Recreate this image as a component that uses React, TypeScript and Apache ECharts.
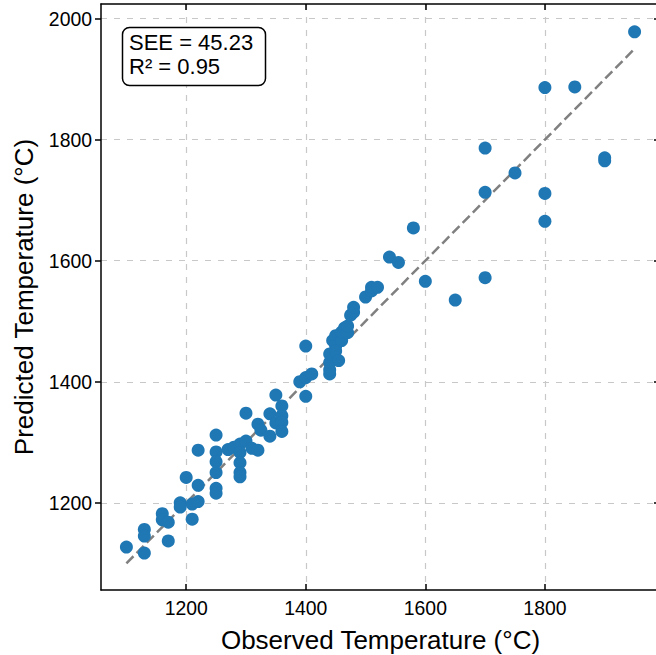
import React, { useEffect, useRef } from "react";
import * as echarts from "echarts";

const observed = [
  1100, 1130, 1130, 1130, 1160, 1160, 1170, 1170, 1190, 1190,
  1200, 1210, 1210, 1220, 1220, 1220, 1250, 1250, 1250, 1250,
  1250, 1250, 1270, 1280, 1290, 1290, 1290, 1290, 1290, 1300,
  1300, 1310, 1320, 1320, 1325, 1340, 1340, 1350, 1350, 1360,
  1360, 1360, 1360, 1390, 1400, 1400, 1400, 1410, 1440, 1440,
  1440, 1440, 1445, 1450, 1450, 1450, 1455, 1455, 1460, 1460,
  1465, 1470, 1470, 1475, 1480, 1480, 1500, 1510, 1510, 1520,
  1540, 1555, 1580, 1600, 1650, 1700, 1700, 1700, 1750, 1800,
  1800, 1800, 1850, 1900, 1900, 1950,
];
const predicted = [
  1127, 1156, 1145, 1117, 1182, 1172, 1168, 1137, 1200, 1193,
  1242, 1173, 1198, 1202, 1229, 1287, 1312, 1284, 1268, 1250,
  1224, 1216, 1288, 1292, 1297, 1283, 1266, 1250, 1243, 1302,
  1348, 1290, 1287, 1330, 1320, 1347, 1310, 1378, 1332, 1360,
  1344, 1333, 1318, 1400, 1407, 1459, 1376, 1413, 1413, 1420,
  1432, 1446, 1468, 1476, 1459, 1451, 1435, 1476, 1468, 1482,
  1489, 1481, 1492, 1510, 1515, 1523, 1540, 1550, 1556, 1556,
  1606, 1597, 1654, 1566, 1535, 1786, 1713, 1572, 1745, 1886,
  1711, 1665, 1887, 1770, 1765, 1978,
];
const fitLine = [1100, 1950];
const xTicks = [1200, 1400, 1600, 1800];
const yTicks = [1200, 1400, 1600, 1800, 2000];
const statLines = ["SEE = 45.23", "R² = 0.95"];
const xLabel = "Observed Temperature (°C)";
const yLabel = "Predicted Temperature (°C)";

const FONT = "'Liberation Sans', Arial, sans-serif";

export default function App() {
  const ref = useRef<HTMLDivElement>(null);
  useEffect(() => {
    if (!ref.current) return;
    const chart = echarts.init(ref.current, null, { renderer: "svg" });
    const xMin = 1057.5, xMax = 1992.5, yMin = 1056, yMax = 2024;
    const axisLine = { show: true, onZero: false, lineStyle: { color: "#000", width: 1.5 } };
    const grid = { show: true, lineStyle: { color: "#c8c8c8", width: 1.2, type: [6, 7] } };
    const fmt = (v: number) => String(v);
    chart.setOption({
      animation: false,
      backgroundColor: "#fff",
      grid: { left: 101, top: 4, width: 559, height: 586, containLabel: false, outerBoundsMode: "none" },
      xAxis: [
        {
          type: "value", min: xMin, max: xMax, position: "bottom",
          name: xLabel, nameLocation: "middle", nameGap: 37,
          nameTextStyle: { fontFamily: FONT, fontSize: 26, color: "#000", lineHeight: 26 },
          axisLine,
          axisTick: { show: true, inside: true, length: 6, customValues: xTicks, lineStyle: { color: "#000", width: 1.5 } },
          axisLabel: { show: true, customValues: xTicks, formatter: fmt, margin: 8, fontFamily: FONT, fontSize: 19.4, color: "#000", lineHeight: 19 },
          splitLine: grid,
        },
        {
          type: "value", min: xMin, max: xMax, position: "top",
          axisLine,
          axisTick: { show: true, inside: true, length: 6, customValues: xTicks, lineStyle: { color: "#000", width: 1.5 } },
          axisLabel: { show: false },
          splitLine: { show: false },
        },
      ],
      yAxis: [
        {
          type: "value", min: yMin, max: yMax, position: "left",
          name: yLabel, nameLocation: "middle", nameGap: 64, nameRotate: 90,
          nameTextStyle: { fontFamily: FONT, fontSize: 26, color: "#000", lineHeight: 26 },
          axisLine,
          axisTick: { show: true, inside: false, length: 6, customValues: yTicks, lineStyle: { color: "#000", width: 1.5 } },
          axisLabel: { show: true, customValues: yTicks, formatter: fmt, margin: 9, fontFamily: FONT, fontSize: 19.4, color: "#000" },
          splitLine: grid,
        },
        {
          type: "value", min: yMin, max: yMax, position: "right",
          axisLine,
          axisTick: { show: true, inside: true, length: 6, customValues: yTicks, lineStyle: { color: "#000", width: 1.5 } },
          axisLabel: { show: false },
          splitLine: { show: false },
        },
      ],
      series: [
        {
          type: "line",
          data: fitLine.map((v) => [v, v]),
          showSymbol: false,
          symbol: "none",
          lineStyle: { color: "#808080", width: 2.5, type: [10, 4.5] },
          z: 2,
          silent: true,
        },
        {
          type: "scatter",
          data: observed.map((x, i) => [x, predicted[i]]),
          symbolSize: 13,
          itemStyle: { color: "#1f77b4", opacity: 1 },
          z: 3,
        },
      ],
      graphic: [
        {
          type: "rect",
          shape: { x: 122.5, y: 27.5, width: 143, height: 58, r: 7 },
          style: { fill: "#fff", stroke: "#000", lineWidth: 1.5 },
          z: 100,
        },
        {
          type: "text",
          x: 129, y: 42.5,
          style: { text: statLines[0], fontFamily: FONT, fontSize: 22, fill: "#000", verticalAlign: "middle", align: "left" },
          z: 101,
        },
        {
          type: "text",
          x: 129, y: 66.5,
          style: { text: statLines[1], fontFamily: FONT, fontSize: 22, fill: "#000", verticalAlign: "middle", align: "left" },
          z: 101,
        },
      ],
    });
    return () => chart.dispose();
  }, []);
  return (
    <div
      ref={ref}
      style={{ position: "absolute", left: 0, top: 0, width: 656, height: 655, background: "#fff" }}
    />
  );
}
